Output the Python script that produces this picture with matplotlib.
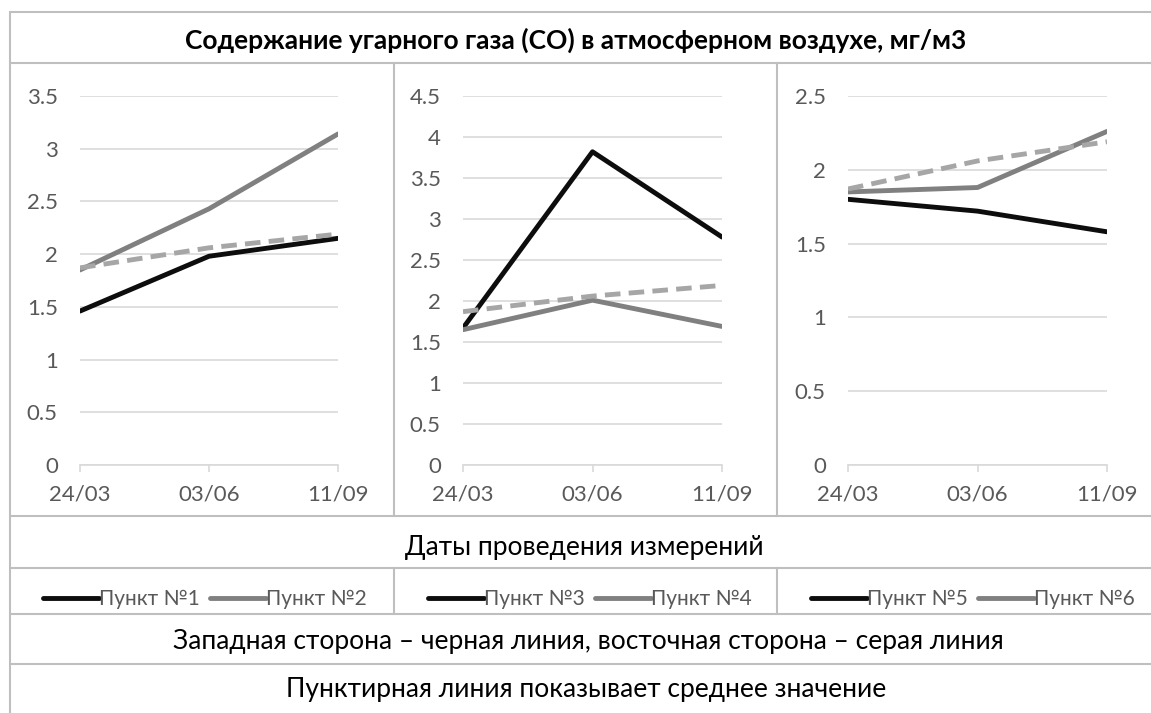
import matplotlib
matplotlib.use('Agg')
import matplotlib.pyplot as plt
from matplotlib.lines import Line2D

plt.rcParams['font.family'] = ['Lato', 'Noto Sans', 'DejaVu Sans']

# data
dates = ['24/03', '03/06', '11/09']
punkt1 = [1.46, 1.98, 2.15]
punkt2 = [1.85, 2.43, 3.14]
punkt3 = [1.67, 3.82, 2.78]
punkt4 = [1.65, 2.01, 1.69]
punkt5 = [1.80, 1.72, 1.58]
punkt6 = [1.85, 1.88, 2.26]
srednee = [1.87, 2.06, 2.19]

panel_names = [('Пункт №1', 'Пункт №2'), ('Пункт №3', 'Пункт №4'), ('Пункт №5', 'Пункт №6')]
panel_west = [punkt1, punkt3, punkt5]
panel_east = [punkt2, punkt4, punkt6]
panel_ymax = [3.5, 4.5, 2.5]

title = 'Содержание угарного газа (CO) в атмосферном воздухе, мг/м3'
xlabel = 'Даты проведения измерений'
note1 = 'Западная сторона – черная линия, восточная сторона – серая линия'
note2 = 'Пунктирная линия показывает среднее значение'

W, H = 1151, 713
BLACK = '#0d0d0d'
GREY = '#808080'
DASH = '#a6a6a6'
BORDER = '#bfbfbf'
GRID = '#d9d9d9'
TICK = '#595959'
LW = 3.5

fig = plt.figure(figsize=(W / 100, H / 100), dpi=100)

# background layer in pixel coordinates for the table-like frame
bg = fig.add_axes([0, 0, 1, 1])
bg.set_xlim(0, W)
bg.set_ylim(H, 0)
bg.axis('off')

left = 10
for y in [12, 63, 516, 568, 614, 664]:
    bg.plot([left, W], [y, y], color=BORDER, lw=1.5, solid_capstyle='butt')
bg.plot([left, left], [12, H], color=BORDER, lw=1.5)
for x in [394, 777]:
    bg.plot([x, x], [63, 516], color=BORDER, lw=1.5)
    bg.plot([x, x], [568, 614], color=BORDER, lw=1.5)

bg.text(576, 40, title, ha='center', va='center', fontsize=19, fontweight='bold', color='black')
bg.text(584, 547, xlabel, ha='center', va='center', fontsize=19, color='black')
bg.text(588, 642, note1, ha='center', va='center', fontsize=19, color='black')
bg.text(586, 690, note2, ha='center', va='center', fontsize=19, color='black')

panel_x = [(80, 338), (463, 722), (848, 1107)]
top, bottom = 96, 465
legend_centers = [205, 590, 973]

for i in range(3):
    x0, x1 = panel_x[i]
    ax = fig.add_axes([x0 / W, 1 - bottom / H, (x1 - x0) / W, (bottom - top) / H])
    xs = range(len(dates))
    ax.plot(xs, panel_west[i], color=BLACK, lw=LW, solid_capstyle='round', zorder=3)
    ax.plot(xs, panel_east[i], color=GREY, lw=LW, solid_capstyle='round', zorder=3)
    ax.plot(xs, srednee, color=DASH, lw=LW, dashes=(3.2, 1.7), zorder=4)
    ax.set_xlim(0, 2)
    ax.set_ylim(0, panel_ymax[i])
    ticks = [k * 0.5 for k in range(int(panel_ymax[i] / 0.5) + 1)]
    ax.set_yticks(ticks)
    ax.set_yticklabels(['%g' % t for t in ticks])
    ax.set_xticks(list(xs))
    ax.set_xticklabels(dates)
    ax.grid(axis='y', color=GRID, lw=1.2)
    ax.set_axisbelow(True)
    for s in ['top', 'right', 'left']:
        ax.spines[s].set_visible(False)
    ax.spines['bottom'].set_color(GRID)
    ax.spines['bottom'].set_linewidth(1.2)
    ax.tick_params(axis='y', length=0, pad=16, labelsize=16, labelcolor=TICK)
    ax.tick_params(axis='x', length=5, width=1.2, color=GRID, pad=9, labelsize=16, labelcolor=TICK)
    ax.set_facecolor('none')

    handles = [Line2D([], [], color=BLACK, lw=LW, solid_capstyle='round'),
               Line2D([], [], color=GREY, lw=LW, solid_capstyle='round')]
    fig.legend(handles, panel_names[i], loc='center', ncol=2, frameon=False,
               bbox_to_anchor=(legend_centers[i] / W, 1 - 599 / H),
               fontsize=15, handlelength=2.7, handletextpad=0.0, columnspacing=0.5,
               labelcolor=TICK)

fig.savefig('out.png', dpi=100)
